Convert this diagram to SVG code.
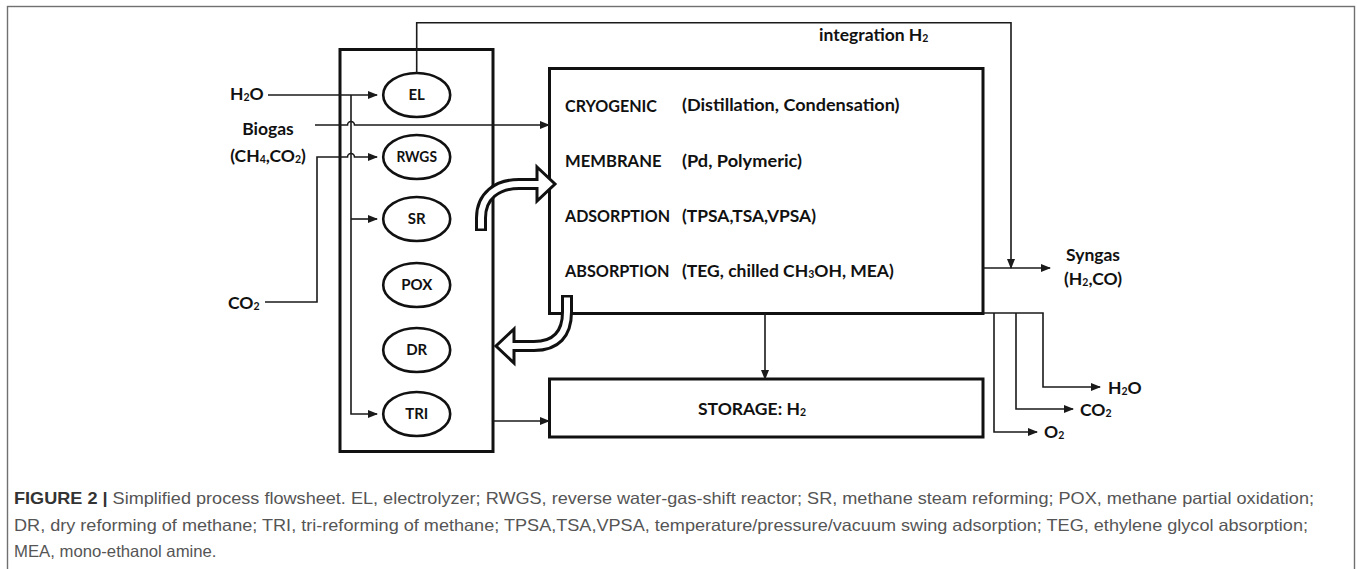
<svg xmlns="http://www.w3.org/2000/svg" width="1357" height="569" viewBox="0 0 1357 569">
<style>
.box{fill:#fff;stroke:#111;stroke-width:3}
.ell{fill:#fff;stroke:#111;stroke-width:2.6}
.ln{fill:none;stroke:#1a1a1a;stroke-width:1.6}
.lb{font-family:Lato,"Liberation Sans",sans-serif;font-weight:bold;font-size:17.5px;fill:#111}
.el{font-size:15px}
.cap{font-family:"Liberation Sans",Arial,sans-serif;font-size:16.5px;fill:#555}
.capb{font-weight:bold;fill:#333}
</style>
<defs>
<marker id="ah" markerUnits="userSpaceOnUse" markerWidth="10" markerHeight="8" refX="9" refY="4" orient="auto">
<path d="M0,0 L10,4 L0,8 z" fill="#1a1a1a"/>
</marker>
</defs>
<rect x="7.5" y="6.5" width="1347" height="620" fill="none" stroke="#707070" stroke-width="1.4"/>

<g id="reactors">
<rect class="box" x="340" y="49.5" width="153" height="402"/>
</g>
<g id="EL"><ellipse class="ell" cx="416.7" cy="95" rx="33.5" ry="22"/><text class="lb el" x="416.7" y="100" text-anchor="middle">EL</text></g>
<g id="RWGS"><ellipse class="ell" cx="416.7" cy="157" rx="33.5" ry="22"/><text class="lb el" x="416.7" y="162" text-anchor="middle" textLength="40.5" lengthAdjust="spacingAndGlyphs">RWGS</text></g>
<g id="SR"><ellipse class="ell" cx="416.7" cy="219" rx="33.5" ry="22"/><text class="lb el" x="416.7" y="224" text-anchor="middle">SR</text></g>
<g id="POX"><ellipse class="ell" cx="416.7" cy="285" rx="33.5" ry="22"/><text class="lb el" x="416.7" y="290" text-anchor="middle">POX</text></g>
<g id="DR"><ellipse class="ell" cx="416.7" cy="350" rx="33.5" ry="22"/><text class="lb el" x="416.7" y="355" text-anchor="middle">DR</text></g>
<g id="TRI"><ellipse class="ell" cx="416.7" cy="414" rx="33.5" ry="22"/><text class="lb el" x="416.7" y="419" text-anchor="middle">TRI</text></g>

<g id="separation">
<rect class="box" x="549.5" y="68.5" width="433.5" height="245"/>
<text class="lb" x="565" y="111.5" textLength="92" lengthAdjust="spacingAndGlyphs">CRYOGENIC</text>
<text class="lb" x="682" y="111" textLength="217.5" lengthAdjust="spacingAndGlyphs">(Distillation, Condensation)</text>
<text class="lb" x="565" y="167" textLength="96.5" lengthAdjust="spacingAndGlyphs">MEMBRANE</text>
<text class="lb" x="682" y="166.5" textLength="120" lengthAdjust="spacingAndGlyphs">(Pd, Polymeric)</text>
<text class="lb" x="565" y="222" textLength="105" lengthAdjust="spacingAndGlyphs">ADSORPTION</text>
<text class="lb" x="682" y="221.5" textLength="134" lengthAdjust="spacingAndGlyphs">(TPSA,TSA,VPSA)</text>
<text class="lb" x="565" y="277" textLength="104.5" lengthAdjust="spacingAndGlyphs">ABSORPTION</text>
<text class="lb" x="682" y="276.5">(TEG, chilled CH<tspan font-size="60%" dy="1">3</tspan><tspan dy="-1">OH, MEA)</tspan></text>
</g>

<g id="storage">
<rect class="box" x="549.5" y="379" width="433.5" height="58"/>
<text class="lb" x="752" y="415" text-anchor="middle">STORAGE: H<tspan font-size="60%" dy="1">2</tspan></text>
</g>

<g id="labels">
<text class="lb" x="230" y="100">H<tspan font-size="60%" dy="1">2</tspan><tspan dy="-1">O</tspan></text>
<text class="lb" x="268" y="134.5" text-anchor="middle">Biogas</text>
<text class="lb" x="268" y="161.5" text-anchor="middle">(CH<tspan font-size="60%" dy="1">4</tspan><tspan dy="-1">,CO</tspan><tspan font-size="60%" dy="1">2</tspan><tspan dy="-1">)</tspan></text>
<text class="lb" x="228" y="309">CO<tspan font-size="60%" dy="1">2</tspan></text>
<text class="lb" x="819" y="41">integration H<tspan font-size="60%" dy="1">2</tspan></text>
<text class="lb" x="1066" y="261">Syngas</text>
<text class="lb" x="1064" y="285">(H<tspan font-size="60%" dy="1">2</tspan><tspan dy="-1">,CO)</tspan></text>
<text class="lb" x="1108" y="394">H<tspan font-size="60%" dy="1">2</tspan><tspan dy="-1">O</tspan></text>
<text class="lb" x="1080" y="416">CO<tspan font-size="60%" dy="1">2</tspan></text>
<text class="lb" x="1044" y="438">O<tspan font-size="60%" dy="1">2</tspan></text>
</g>

<g id="connectors">
<path class="ln" d="M268 95 L377 95" marker-end="url(#ah)"/>
<path class="ln" d="M351 95 L351 414 L377 414" marker-end="url(#ah)"/>
<path class="ln" d="M351 219 L377 219" marker-end="url(#ah)"/>
<path class="ln" d="M315 125 L347.5 125 A3.5 3.5 0 0 1 354.5 125 L549 125" marker-end="url(#ah)"/>
<path class="ln" d="M265 302 L317 302 L317 157 L347.5 157 A3.5 3.5 0 0 1 354.5 157 L377 157" marker-end="url(#ah)"/>
<path class="ln" d="M416.7 73 L416.7 22.7 L1011 22.7 L1011 268" marker-end="url(#ah)"/>
<path class="ln" d="M983 268 L1050 268" marker-end="url(#ah)"/>
<path class="ln" d="M765 313 L765 379" marker-end="url(#ah)"/>
<path class="ln" d="M493 421 L549 421" marker-end="url(#ah)"/>
<path class="ln" d="M983 313 L1043 313 L1043 387 L1100 387" marker-end="url(#ah)"/>
<path class="ln" d="M1016 313 L1016 409 L1073 409" marker-end="url(#ah)"/>
<path class="ln" d="M994 313 L994 432 L1037 432" marker-end="url(#ah)"/>
</g>

<g id="recycle-arrows">
<path d="M481 231 L481 218 C481 196 497 184 519 184 L539 184" fill="none" stroke="#111" stroke-width="12"/>
<polygon points="537,167 555,184 537,201" fill="#fff" stroke="#111" stroke-width="3" stroke-linejoin="miter"/>
<path d="M481 228.5 L481 218 C481 196 497 184 519 184 L540 184" fill="none" stroke="#fff" stroke-width="6"/>
<path d="M567 295 L567 312 C567 334 556 346 534 346 L511 346" fill="none" stroke="#111" stroke-width="12"/>
<polygon points="514,329 496,346 514,363" fill="#fff" stroke="#111" stroke-width="3" stroke-linejoin="miter"/>
<path d="M567 297.5 L567 312 C567 334 556 346 534 346 L510 346" fill="none" stroke="#fff" stroke-width="6"/>
</g>

<g id="caption">
<text class="cap" x="14" y="504" textLength="1300" lengthAdjust="spacingAndGlyphs"><tspan class="capb">FIGURE 2 |</tspan> Simplified process flowsheet. EL, electrolyzer; RWGS, reverse water-gas-shift reactor; SR, methane steam reforming; POX, methane partial oxidation;</text>
<text class="cap" x="14" y="530.5" textLength="1294" lengthAdjust="spacingAndGlyphs">DR, dry reforming of methane; TRI, tri-reforming of methane; TPSA,TSA,VPSA, temperature/pressure/vacuum swing adsorption; TEG, ethylene glycol absorption;</text>
<text class="cap" x="14" y="557" textLength="202.5" lengthAdjust="spacingAndGlyphs">MEA, mono-ethanol amine.</text>
</g>
</svg>
